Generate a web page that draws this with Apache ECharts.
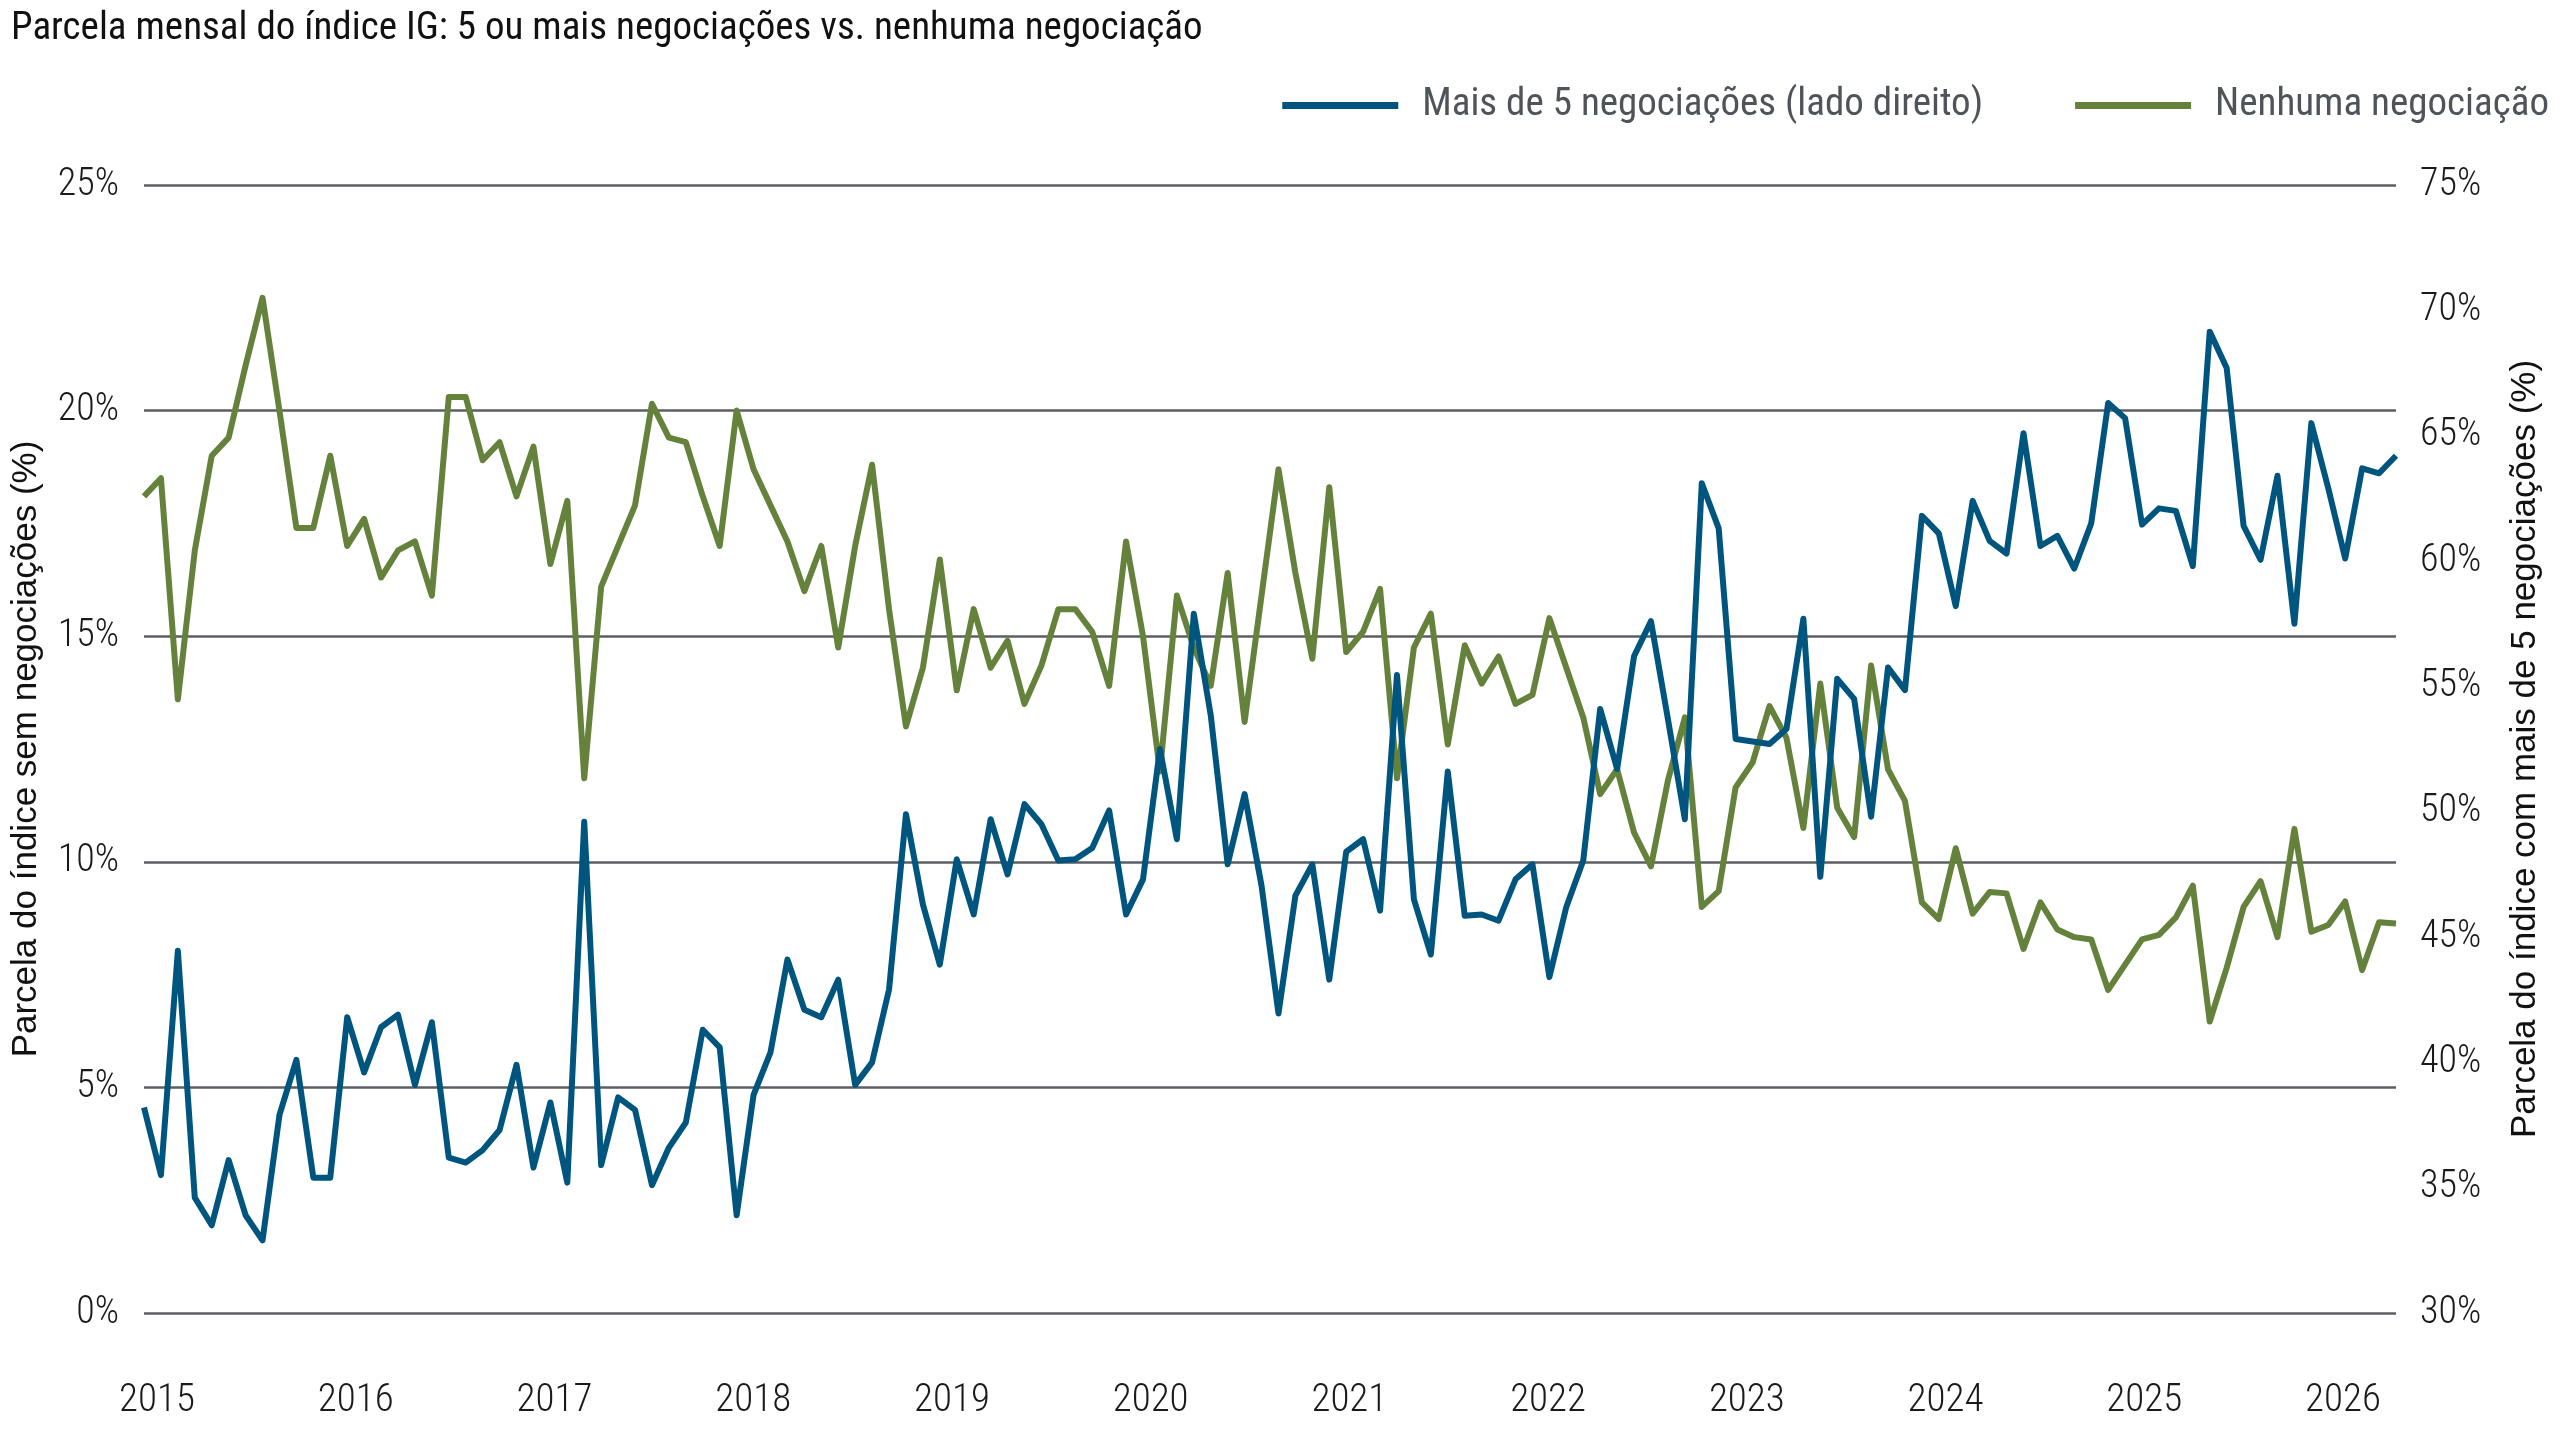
<!DOCTYPE html>
<html>
<head>
<meta charset="utf-8">
<title>Parcela mensal do índice IG</title>
<script src="https://cdn.jsdelivr.net/npm/echarts@6/dist/echarts.min.js"></script>
<style>
  html, body { margin: 0; padding: 0; background: #fff; }
  #chart { width: 2560px; height: 1440px; }
</style>
</head>
<body>
<div id="chart"></div>
<script>
const NARROW = "'Roboto Condensed', 'Liberation Sans Narrow', Roboto, sans-serif";
const PLAIN = "'Liberation Sans', Arial, sans-serif";

const yearLabels = ["2015", "2016", "2017", "2018", "2019", "2020", "2021", "2022", "2023", "2024", "2025", "2026"];

// share of index with no trades (left axis, %)
const noTrades = [
  18.1, 18.5, 13.6, 16.9, 19.0, 19.4, 21.0, 22.5, 20.0, 17.4,
  17.4, 19.0, 17.0, 17.6, 16.3, 16.9, 17.1, 15.9, 20.3, 20.3,
  18.9, 19.3, 18.1, 19.2, 16.6, 18.0, 11.85, 16.1, 17.0, 17.9,
  20.15, 19.4, 19.3, 18.1, 17.0, 20.0, 18.7, 17.9, 17.1, 16.0,
  17.0, 14.75, 17.0, 18.8, 15.6, 13.0, 14.3, 16.7, 13.8, 15.6,
  14.3, 14.9, 13.5, 14.35, 15.6, 15.6, 15.1, 13.9, 17.1, 15.0,
  12.0, 15.9, 14.75, 13.9, 16.4, 13.1, 15.9, 18.7, 16.4, 14.5,
  18.3, 14.65, 15.1, 16.05, 11.85, 14.75, 15.5, 12.6, 14.8, 13.95,
  14.55, 13.5, 13.7, 15.4, 14.3, 13.2, 11.5, 12.05, 10.65, 9.9,
  11.8, 13.2, 9.0, 9.35, 11.65, 12.2, 13.45, 12.75, 10.75, 13.95,
  11.2, 10.55, 14.35, 12.05, 11.35, 9.1, 8.73, 10.3, 8.85, 9.33,
  9.3, 8.07, 9.1, 8.5, 8.33, 8.28, 7.16, 7.72, 8.28, 8.38,
  8.77, 9.47, 6.46, 7.65, 9.0, 9.57, 8.33, 10.73, 8.45, 8.6,
  9.12, 7.6, 8.66, 8.63
];

// share of index with more than 5 trades (right axis, %)
const fivePlus = [
  38.2, 35.5, 44.45, 34.6, 33.5, 36.1, 33.9, 32.9, 37.9, 40.1,
  35.4, 35.4, 41.8, 39.6, 41.4, 41.9, 39.1, 41.6, 36.2, 36.0,
  36.5, 37.3, 39.9, 35.8, 38.4, 35.2, 49.6, 35.9, 38.6, 38.1,
  35.1, 36.6, 37.6, 41.3, 40.6, 33.9, 38.7, 40.4, 44.1, 42.1,
  41.8, 43.3, 39.1, 40.0, 42.9, 49.9, 46.3, 43.9, 48.1, 45.9,
  49.7, 47.5, 50.3, 49.5, 48.05, 48.1, 48.55, 50.05, 45.9, 47.3,
  52.5, 48.9, 57.9, 53.85, 47.9, 50.7, 47.05, 41.95, 46.65, 47.9,
  43.3, 48.4, 48.9, 46.05, 55.45, 46.5, 44.3, 51.6, 45.85, 45.9,
  45.65, 47.3, 47.9, 43.4, 46.2, 48.05, 54.1, 51.7, 56.2, 57.6,
  53.7, 49.7, 63.1, 61.3, 52.9, 52.8, 52.7, 53.3, 57.7, 47.4,
  55.3, 54.5, 49.8, 55.75, 54.85, 61.8, 61.1, 58.2, 62.4, 60.8,
  60.3, 65.1, 60.6, 61.0, 59.7, 61.5, 66.3, 65.7, 61.45, 62.1,
  62.0, 59.8, 69.15, 67.7, 61.4, 60.05, 63.4, 57.5, 65.5, 62.9,
  60.1, 63.7, 63.5, 64.2
];

// monthly categories, one per point (labels hidden, years drawn on second axis)
const months = noTrades.map((v, i) => "m" + i);

const chart = echarts.init(document.getElementById("chart"));

const option = {
  backgroundColor: "#ffffff",
  animation: false,
  title: {
    text: "Parcela mensal do índice IG: 5 ou mais negociações vs. nenhuma negociação",
    left: 11,
    top: 10,
    padding: 0,
    textStyle: {
      fontFamily: NARROW,
      fontSize: 39,
      fontWeight: "normal",
      color: "#111111",
    },
  },
  legend: {
    data: ["Mais de 5 negociações (lado direito)", "Nenhuma negociação"],
    right: 11,
    top: 86,
    padding: 0,
    icon: "rect",
    itemWidth: 116,
    itemHeight: 7,
    itemGap: 92,
    textStyle: {
      fontFamily: NARROW,
      fontSize: 39,
      color: "#4f545b",
      padding: [0, 0, 0, 19],
    },
  },
  grid: [
    { left: 144, right: 164, top: 185, bottom: 127 },
    { left: 157, right: 217, top: 185, bottom: 127 },
  ],
  xAxis: [
    {
      type: "category",
      gridIndex: 0,
      data: months,
      boundaryGap: false,
      axisLine: { show: false },
      axisTick: { show: false },
      axisLabel: { show: false },
      splitLine: { show: false },
    },
    {
      type: "category",
      gridIndex: 1,
      data: yearLabels,
      boundaryGap: false,
      axisLine: { show: false },
      axisTick: { show: false },
      splitLine: { show: false },
      axisLabel: {
        interval: 0,
        margin: 69,
        fontFamily: NARROW,
        fontSize: 39,
        fontWeight: 300,
        color: "#1a1a1a",
      },
    },
  ],
  yAxis: [
    {
      type: "value",
      gridIndex: 0,
      min: 0,
      max: 25,
      interval: 5,
      name: "Parcela do índice sem negociações (%)",
      nameLocation: "middle",
      nameRotate: 90,
      nameGap: 100,
      nameTextStyle: { fontFamily: PLAIN, fontSize: 35, color: "#111111" },
      axisLine: { show: false },
      axisTick: { show: false },
      axisLabel: {
        formatter: "{value}%",
        margin: 25,
        padding: [6, 0, 0, 0],
        fontFamily: NARROW,
        fontSize: 38,
        fontWeight: 300,
        color: "#1a1a1a",
      },
      splitLine: { lineStyle: { color: "#5b5e63", width: 2.5 } },
    },
    {
      type: "value",
      gridIndex: 0,
      min: 30,
      max: 75,
      interval: 5,
      position: "right",
      name: "Parcela do índice com mais de 5 negociações (%)",
      nameLocation: "middle",
      nameRotate: 90,
      nameGap: 112,
      nameTextStyle: { fontFamily: PLAIN, fontSize: 35, color: "#111111" },
      axisLine: { show: false },
      axisTick: { show: false },
      axisLabel: {
        formatter: "{value}%",
        margin: 24,
        padding: [6, 0, 0, 0],
        fontFamily: NARROW,
        fontSize: 38,
        fontWeight: 300,
        color: "#1a1a1a",
      },
      splitLine: { show: false },
    },
    {
      type: "value",
      gridIndex: 1,
      show: false,
    },
  ],
  series: [
    {
      name: "Nenhuma negociação",
      type: "line",
      xAxisIndex: 0,
      yAxisIndex: 0,
      data: noTrades,
      symbol: "none",
      color: "#64823b",
      lineStyle: { width: 6, join: "round" },
    },
    {
      name: "Mais de 5 negociações (lado direito)",
      type: "line",
      xAxisIndex: 0,
      yAxisIndex: 1,
      data: fivePlus,
      symbol: "none",
      color: "#00557f",
      lineStyle: { width: 6, join: "round" },
    },
  ],
};

chart.setOption(option);
</script>
</body>
</html>
